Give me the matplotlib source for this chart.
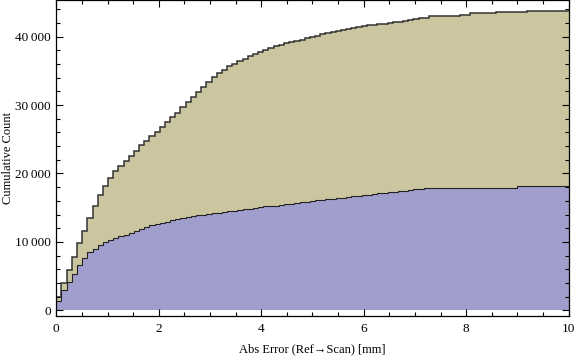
import matplotlib
matplotlib.use("Agg")
import matplotlib.pyplot as plt
import numpy as np
from matplotlib.ticker import MultipleLocator, FuncFormatter

# cumulative counts per bin (99 bins between 0 and 10 mm)
total_counts = [
    1950, 4050, 5850, 7850, 9840, 11650, 13550, 15300, 16860, 18230,
    19400, 20320, 21100, 21880, 22610, 23350, 24220, 24800, 25480, 26120,
    26850, 27590, 28220, 28900, 29720, 30410, 31190, 31920, 32680, 33400,
    34110, 34750, 35190, 35670, 36070, 36450, 36800, 37130, 37450, 37800,
    38100, 38400, 38650, 38850, 39050, 39230, 39370, 39570, 39810, 40010,
    40160, 40350, 40500, 40640, 40790, 40940, 41080, 41230, 41370, 41520,
    41670, 41770, 41860, 41910, 42010, 42100, 42200, 42350, 42500, 42600,
    42790, 42790, 43020, 43020, 43020, 43020, 43020, 43020, 43220, 43220,
    43410, 43410, 43410, 43410, 43410, 43560, 43560, 43560, 43560, 43560,
    43560, 43710, 43710, 43710, 43710, 43710, 43710, 43710, 43710,
]
subset_counts = [
    1360, 2920, 4190, 5360, 6620, 7600, 8480, 9020, 9480, 9950,
    10290, 10550, 10820, 11060, 11290, 11650, 11940, 12180, 12430, 12570,
    12820, 12970, 13260, 13410, 13550, 13700, 13850, 13890, 13890, 14040,
    14180, 14180, 14330, 14470, 14470, 14620, 14770, 14770, 14910, 15060,
    15200, 15300, 15300, 15450, 15600, 15600, 15750, 15890, 15890, 16040,
    16180, 16180, 16330, 16330, 16480, 16480, 16620, 16770, 16770, 16920,
    16920, 17060, 17210, 17210, 17350, 17350, 17500, 17500, 17650, 17700,
    17790, 17850, 17900, 17940, 17940, 17940, 17940, 17940, 17940, 17940,
    17940, 17940, 17940, 17940, 17940, 17940, 17940, 17940, 17940, 18130,
    18130, 18130, 18130, 18130, 18130, 18130, 18130, 18130, 18130,
]
edges = np.linspace(0, 10, len(total_counts) + 1)

plt.rcParams['font.family'] = ['Liberation Serif', 'DejaVu Serif']

fig = plt.figure(figsize=(5.76, 3.57), dpi=100)
ax = fig.add_axes([0.0977, 0.1157, 0.8896, 0.8829])

ax.stairs(total_counts, edges, fill=True, baseline=0, color='#CBC6A0', lw=0)
ax.stairs(total_counts, edges, baseline=None, color='#333333', lw=1.1)
ax.stairs(subset_counts, edges, fill=True, baseline=0, color='#A09ECC', lw=0)
ax.stairs(subset_counts, edges, baseline=None, color='#222222', lw=0.8)

ax.set_xlim(0, 10)
ax.set_ylim(-790, 45290)

ax.xaxis.set_major_locator(MultipleLocator(2))
ax.xaxis.set_minor_locator(MultipleLocator(0.5))
ax.yaxis.set_major_locator(MultipleLocator(10000))
ax.yaxis.set_minor_locator(MultipleLocator(2000))
ax.yaxis.set_major_formatter(FuncFormatter(lambda v, p: f"{v:,.0f}".replace(",", "\u2009")))

ax.tick_params(which='both', direction='in', top=True, right=True, width=0.8,
               labelsize=9.5, colors='black')
ax.tick_params(which='major', length=5)
ax.tick_params(which='minor', length=3)
ax.tick_params(axis='y', pad=4)
ax.tick_params(axis='x', pad=5)
for s in ax.spines.values():
    s.set_linewidth(0.9)

ax.set_xlabel("Abs Error (Ref\u2192Scan) [mm]", fontsize=9, labelpad=6)
fig.text(8.5 / 576, 1 - 158 / 357, "Cumulative Count", fontsize=9,
         rotation=90, ha='center', va='center')

fig.savefig("out.png", dpi=100)
